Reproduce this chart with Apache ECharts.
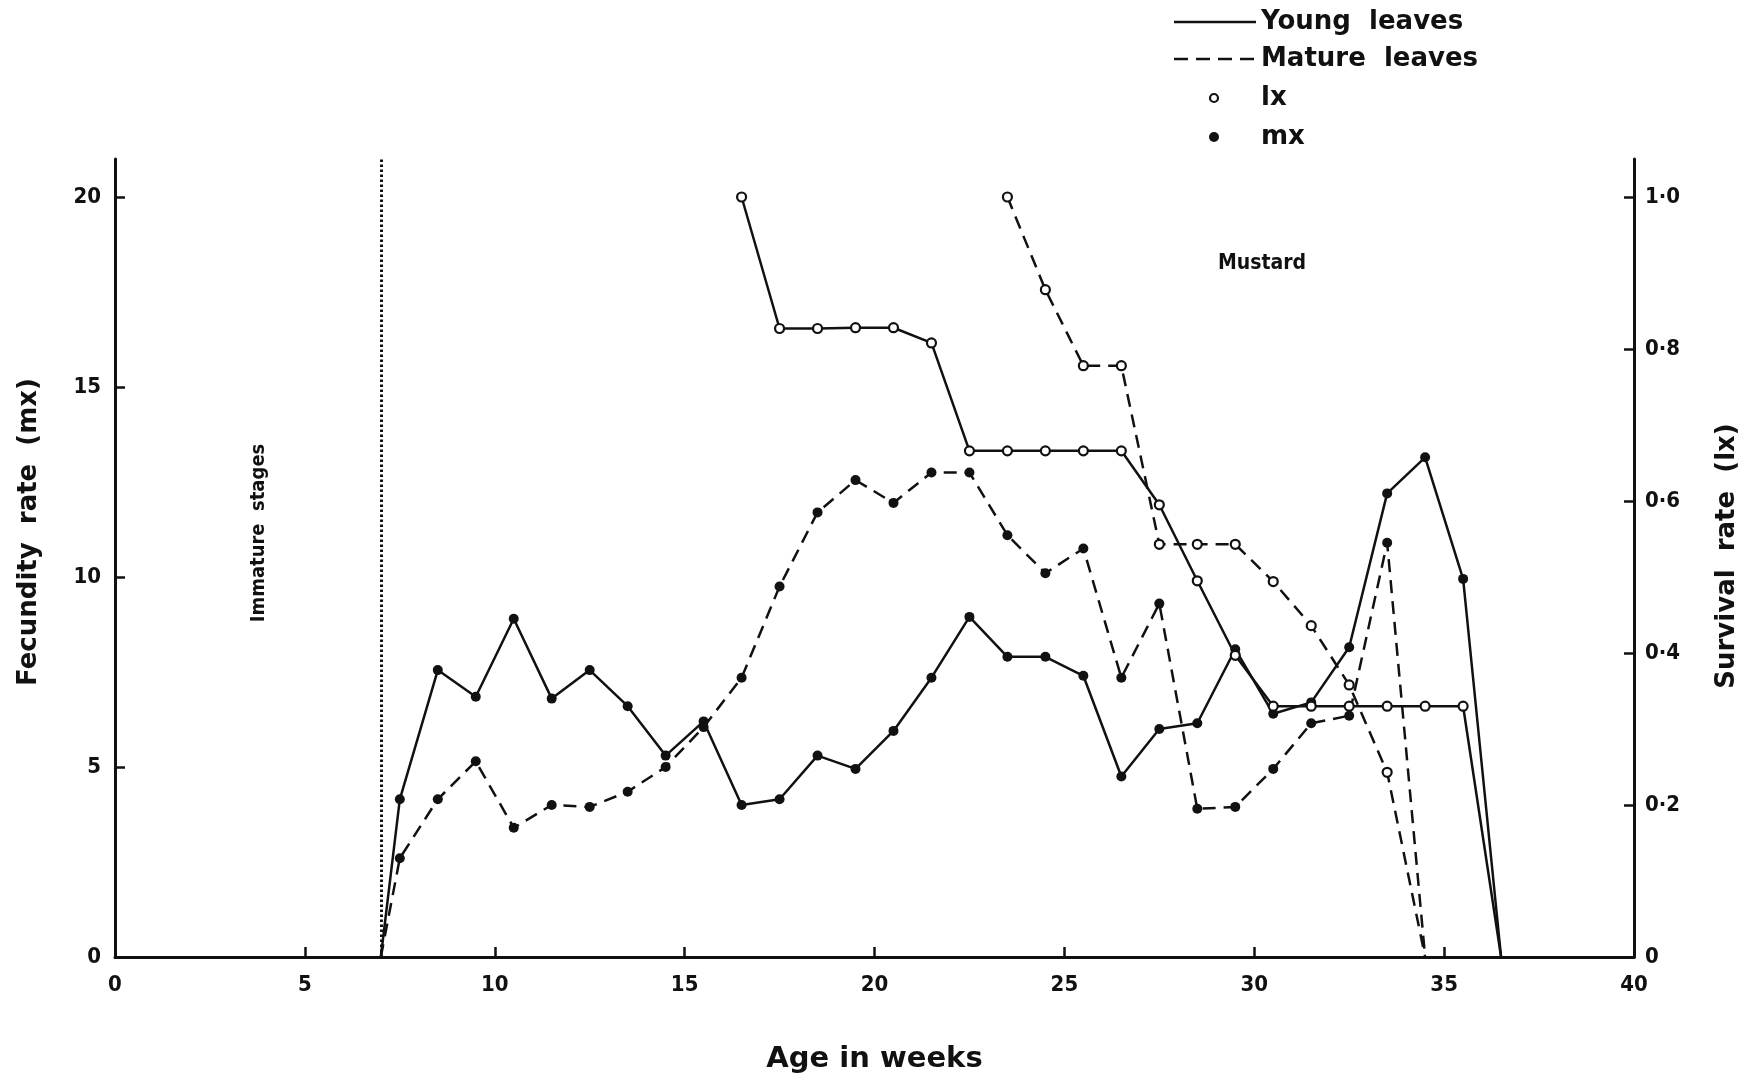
<!DOCTYPE html>
<html>
<head>
<meta charset="utf-8">
<title>Mustard – fecundity and survival</title>
<script src="https://cdn.jsdelivr.net/npm/echarts@6/dist/echarts.min.js"></script>
<style>
  html, body { margin: 0; padding: 0; background: #fff; }
  #chart { width: 1749px; height: 1080px; }
</style>
</head>
<body>
<div id="chart"></div>
<script>
// Age in weeks for each sampled point
const youngMxWeeks = [7, 7.5, 8.5, 9.5, 10.5, 11.5, 12.5, 13.5, 14.5, 15.5, 16.5, 17.5, 18.5, 19.5, 20.5, 21.5, 22.5, 23.5, 24.5, 25.5, 26.5, 27.5, 28.5, 29.5, 30.5, 31.5, 32.5, 33.5, 34.5, 35.5, 36.5];
const matureMxWeeks = [7, 7.5, 8.5, 9.5, 10.5, 11.5, 12.5, 13.5, 14.5, 15.5, 16.5, 17.5, 18.5, 19.5, 20.5, 21.5, 22.5, 23.5, 24.5, 25.5, 26.5, 27.5, 28.5, 29.5, 30.5, 31.5, 32.5, 33.5, 34.5];
const youngLxWeeks = [16.5, 17.5, 18.5, 19.5, 20.5, 21.5, 22.5, 23.5, 24.5, 25.5, 26.5, 27.5, 28.5, 29.5, 30.5, 31.5, 32.5, 33.5, 34.5, 35.5, 36.5];
const matureLxWeeks = [23.5, 24.5, 25.5, 26.5, 27.5, 28.5, 29.5, 30.5, 31.5, 32.5, 33.5, 34.5];

// Fecundity rate (mx)
const youngMx = [0, 4.15, 7.55, 6.85, 8.9, 6.8, 7.55, 6.6, 5.3, 6.2, 4.0, 4.15, 5.3, 4.95, 5.95, 7.35, 8.95, 7.9, 7.9, 7.4, 4.75, 6.0, 6.15, 8.1, 6.4, 6.7, 8.15, 12.2, 13.15, 9.95, 0];
const matureMx = [0, 2.6, 4.15, 5.15, 3.4, 4.0, 3.95, 4.35, 5.0, 6.05, 7.35, 9.75, 11.7, 12.55, 11.95, 12.75, 12.75, 11.1, 10.1, 10.75, 7.35, 9.3, 3.9, 3.95, 4.95, 6.15, 6.35, 10.9, 0];

// Survival rate (lx)
const youngLx = [1.0, 0.827, 0.827, 0.828, 0.828, 0.808, 0.666, 0.666, 0.666, 0.666, 0.666, 0.595, 0.495, 0.397, 0.33, 0.33, 0.33, 0.33, 0.33, 0.33, 0];
const matureLx = [1.0, 0.878, 0.778, 0.778, 0.543, 0.543, 0.543, 0.494, 0.436, 0.358, 0.243, 0];

// Axis ticks
const ageTicks = [0, 5, 10, 15, 20, 25, 30, 35, 40];
const mxTicks = [0, 5, 10, 15, 20];
const lxTicks = [0, 0.2, 0.4, 0.6, 0.8, 1.0];
const immatureEnd = 7;

const INK = '#111';
const DASH = [13, 8];
const BOLD = '"DejaVu Sans", sans-serif';
const NARROW = '"DejaVu Sans Condensed", "DejaVu Sans", sans-serif';

// Points sitting on the axis are only line anchors, drawn without a marker
function points(xs, ys) {
  return xs.map((x, i) => ys[i] === 0
    ? { value: [x, ys[i]], symbol: 'none' }
    : { value: [x, ys[i]] });
}

function lineSeries(name, xs, ys, axis, dashed, filled, extra) {
  return Object.assign({
    name: name,
    type: 'line',
    yAxisIndex: axis,
    data: points(xs, ys),
    symbol: 'circle',
    symbolSize: filled ? 10 : 9,
    lineStyle: { color: INK, width: 2.5, type: dashed ? DASH : 'solid' },
    itemStyle: filled
      ? { color: INK, borderColor: INK, borderWidth: 0 }
      : { color: '#fff', borderColor: INK, borderWidth: 2.2 },
    z: filled ? 3 : 4,
    animation: false,
    silent: true
  }, extra || {});
}

function label(text, x, y, font, rotation, align) {
  return {
    type: 'text', x: x, y: y, rotation: rotation || 0,
    style: {
      text: text, font: font, fill: INK,
      align: align || 'center', verticalAlign: 'middle',
      textAlign: align || 'center', textVerticalAlign: 'middle'
    }
  };
}

const chart = echarts.init(document.getElementById('chart'), null, { renderer: 'canvas' });

const axisLine = { show: true, lineStyle: { color: INK, width: 3 } };
const tickStyle = { color: INK, width: 2.5 };
const labelStyle = { color: INK, fontFamily: NARROW, fontWeight: 'bold', fontSize: 22 };

chart.setOption({
  backgroundColor: '#fff',
  animation: false,
  grid: { left: 115, right: 115, top: 159, bottom: 123, containLabel: false },
  xAxis: {
    type: 'value',
    min: 0, max: 40, interval: 5,
    name: 'Age in weeks',
    nameLocation: 'middle',
    nameGap: 88,
    nameTextStyle: { color: INK, fontFamily: BOLD, fontWeight: 'bold', fontSize: 29 },
    axisLine: axisLine,
    axisTick: { show: true, inside: true, length: 10, lineStyle: tickStyle, customValues: ageTicks },
    axisLabel: Object.assign({ margin: 17, customValues: ageTicks }, labelStyle),
    splitLine: { show: false }
  },
  yAxis: [
    {
      type: 'value',
      min: 0, max: 21,
      position: 'left',
      axisLine: axisLine,
      axisTick: { show: true, inside: true, length: 10, lineStyle: tickStyle, customValues: mxTicks },
      axisLabel: Object.assign({ margin: 14, customValues: mxTicks }, labelStyle),
      splitLine: { show: false }
    },
    {
      type: 'value',
      min: 0, max: 1.05,
      position: 'right',
      axisLine: axisLine,
      axisTick: { show: true, inside: true, length: 10, lineStyle: tickStyle, customValues: lxTicks },
      axisLabel: Object.assign({
        margin: 11,
        customValues: lxTicks,
        formatter: v => v === 0 ? '0' : v.toFixed(1).replace('.', '·')
      }, labelStyle),
      splitLine: { show: false }
    }
  ],
  series: [
    lineSeries('Young leaves mx', youngMxWeeks, youngMx, 0, false, true, {
      markLine: {
        silent: true,
        symbol: 'none',
        label: { show: false },
        lineStyle: { color: INK, width: 3, type: [2.5, 2.5] },
        data: [[{ coord: [immatureEnd, 0] }, { coord: [immatureEnd, 21] }]]
      }
    }),
    lineSeries('Mature leaves mx', matureMxWeeks, matureMx, 0, true, true),
    lineSeries('Young leaves lx', youngLxWeeks, youngLx, 1, false, false),
    lineSeries('Mature leaves lx', matureLxWeeks, matureLx, 1, true, false)
  ],
  graphic: [
    // Axis titles
    label('Fecundity  rate  (mx)', 29, 532, 'bold 26px ' + BOLD, Math.PI / 2),
    label('Survival  rate  (lx)', 1727, 556, 'bold 26px ' + BOLD, Math.PI / 2),
    // Key
    { type: 'line', shape: { x1: 1174, y1: 22, x2: 1256, y2: 22 }, style: { stroke: INK, lineWidth: 2.6 } },
    label('Young  leaves', 1261, 22, 'bold 26px ' + BOLD, 0, 'left'),
    { type: 'line', shape: { x1: 1174, y1: 59, x2: 1256, y2: 59 }, style: { stroke: INK, lineWidth: 2.6, lineDash: [14, 8] } },
    label('Mature  leaves', 1261, 59, 'bold 26px ' + BOLD, 0, 'left'),
    { type: 'circle', shape: { cx: 1214, cy: 98, r: 4 }, style: { fill: '#fff', stroke: INK, lineWidth: 2.2 } },
    label('lx', 1261, 98, 'bold 26px ' + BOLD, 0, 'left'),
    { type: 'circle', shape: { cx: 1214, cy: 137, r: 5 }, style: { fill: INK, stroke: INK, lineWidth: 0 } },
    label('mx', 1261, 137, 'bold 26px ' + BOLD, 0, 'left'),
    // Annotations
    label('Immature  stages', 259, 533, 'bold 20px ' + NARROW, Math.PI / 2),
    label('Mustard', 1262, 264, 'bold 21px ' + NARROW, 0)
  ]
});
</script>
</body>
</html>
